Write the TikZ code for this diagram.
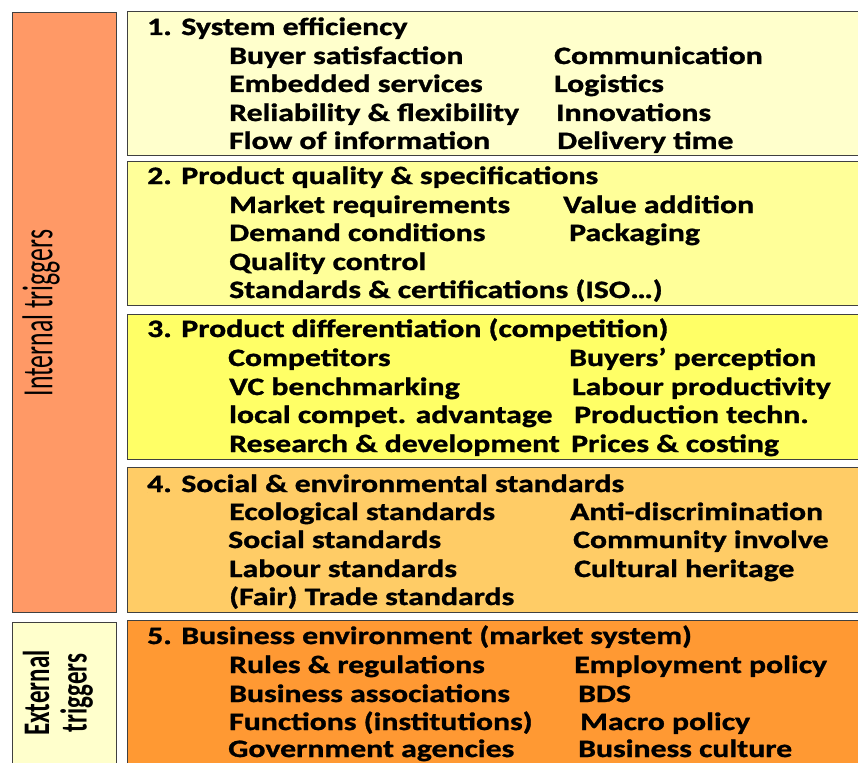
\documentclass[tikz,border=0pt]{standalone}
\usepackage{fontspec}
\setmainfont{Carlito}[FakeStretch=1.27, BoldFeatures={FakeBold=1.2}]
\newfontfamily\sidefont{Carlito}
\usetikzlibrary{positioning}
\definecolor{barint}{HTML}{FF9966}
\definecolor{barext}{HTML}{FFFFCC}
\definecolor{lvla}{HTML}{FFFFCC}
\definecolor{lvlb}{HTML}{FFFF99}
\definecolor{lvlc}{HTML}{FFFF66}
\definecolor{lvld}{HTML}{FFCC66}
\definecolor{lvle}{HTML}{FF9933}
\tikzset{
    panel/.style = {rectangle, draw=black!75, line width=1.3pt, anchor=north west, minimum width=745pt},
    sidebar/.style = {rectangle, draw=black!75, line width=1.3pt, anchor=north west, minimum width=104pt},
    heading/.style = {anchor=base west, inner sep=0pt, font=\bfseries\fontsize{25}{28}\selectfont},
    item/.style = {heading},
    vlabel/.style = {rotate=90, inner sep=0pt, font=\sidefont\fontsize{25.7}{26}\selectfont}
}

\begin{document}
\begin{tikzpicture}[x=1pt,y=-1pt]
\useasboundingbox (0,0) rectangle (858,762);
\clip (0,0) rectangle (858,762);
% side bars
\node[sidebar, fill=barint, minimum height=600pt] at (12,12) (int) {};
\node[sidebar, fill=barext, minimum height=160pt] at (12,622) (ext) {};
\node[vlabel] at (41,313) (intl) {\scalebox{1}[1.68]{Internal triggers}};
\node[vlabel, font=\sidefont\bfseries\fontsize{25}{26}\selectfont] at (60,693) (extl)
  {\scalebox{1}[1.5]{\begin{tabular}{@{}c@{}}External\\[-1pt]triggers\end{tabular}}};
%
% panels
\node[panel, fill=lvla, minimum height=144pt] at (127,11) (p1) {};
\node[panel, fill=lvlb, minimum height=144pt] at (127,161) (p2) {};
\node[panel, fill=lvlc, minimum height=145pt] at (127,314) (p3) {};
\node[panel, fill=lvld, minimum height=145pt] at (127,467) (p4) {};
\node[panel, fill=lvle, minimum height=160pt] at (127,620) (p5) {};
%
% 1
\node[heading] at (147,35) (t1) {1. System efficiency};
\node[item] at (229,64) (l1a) {Buyer satisfaction};
\node[item] at (229,92) (l1b) {Embedded services};
\node[item] at (229,121) (l1c) {Reliability \& flexibility};
\node[item] at (229,149) (l1d) {Flow of information};
\node[item] at (554,64) (r1a) {Communication};
\node[item] at (554,92) (r1b) {Logistics};
\node[item] at (556,121) (r1c) {Innovations};
\node[item] at (557,149) (r1d) {Delivery time};
%
% 2
\node[heading] at (147,184) (t2) {2. Product quality \& specifications};
\node[item] at (229,213) (l2a) {Market requirements};
\node[item] at (229,241) (l2b) {Demand conditions};
\node[item] at (229,270) (l2c) {Quality control};
\node[item] at (229,298) (l2d) {Standards \& certifications (ISO\dots)};
\node[item] at (563,213) (r2a) {Value addition};
\node[item] at (569,241) (r2b) {Packaging};
%
% 3
\node[heading] at (147,337) (t3) {3. Product differentiation (competition)};
\node[item] at (228,366) (l3a) {Competitors};
\node[item] at (229,395) (l3b) {VC benchmarking};
\node[item] at (229,423) (l3c) {local compet. advantage};
\node[item] at (229,452) (l3d) {Research \& development};
\node[item] at (569,366) (r3a) {Buyers’ perception};
\node[item] at (572,395) (r3b) {Labour productivity};
\node[item] at (574,423) (r3c) {Production techn.};
\node[item] at (571,452) (r3d) {Prices \& costing};
%
% 4
\node[heading] at (147,492) (t4) {4. Social \& environmental standards};
\node[item] at (229,520) (l4a) {Ecological standards};
\node[item] at (228,548) (l4b) {Social standards};
\node[item] at (229,577) (l4c) {Labour standards};
\node[item] at (229,605) (l4d) {(Fair) Trade standards};
\node[item] at (570,520) (r4a) {Anti-discrimination};
\node[item] at (573,548) (r4b) {Community involve};
\node[item] at (574,577) (r4c) {Cultural heritage};
%
% 5
\node[heading] at (147,644) (t5) {5. Business environment (market system)};
\node[item] at (229,673) (l5a) {Rules \& regulations};
\node[item] at (229,702) (l5b) {Business associations};
\node[item] at (229,730) (l5c) {Functions (institutions)};
\node[item] at (228,757) (l5d) {Government agencies};
\node[item] at (574,673) (r5a) {Employment policy};
\node[item] at (578,702) (r5b) {BDS};
\node[item] at (580,730) (r5c) {Macro policy};
\node[item] at (578,757) (r5d) {Business culture};

\end{tikzpicture}
\end{document}
